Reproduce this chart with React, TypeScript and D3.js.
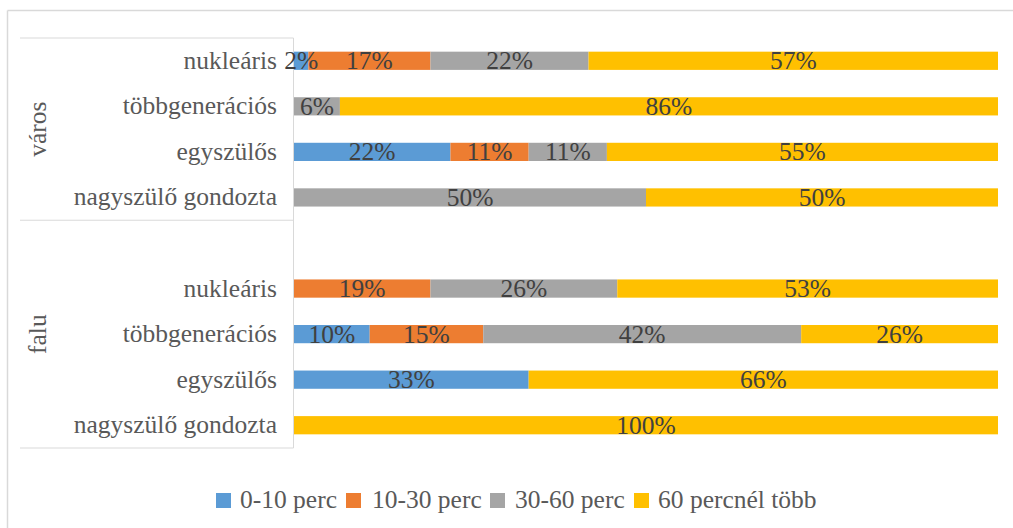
import React from "react";
import * as d3 from "d3";

const groups = ["város", "falu"];
const categories = ["nukleáris", "többgenerációs", "egyszülős", "nagyszülő gondozta"];
const seriesNames = ["0-10 perc", "10-30 perc", "30-60 perc", "60 percnél több"];
const seriesColors = ["#5B9BD5", "#ED7D31", "#A5A5A5", "#FFC000"];

// rows: város (4 categories), then falu (4 categories)
const s0_10 = [2, 0, 22, 0, 0, 10, 33, 0];
const s10_30 = [17, 0, 11, 0, 19, 15, 0, 0];
const s30_60 = [22, 6, 11, 50, 26, 42, 0, 0];
const s60plus = [57, 86, 55, 50, 53, 26, 66, 100];

const W = 1013;
const H = 528;
const FONT = "'Liberation Serif', 'Times New Roman', serif";
const FS = 25.5;

export default function App() {
  const allSeries = [s0_10, s10_30, s30_60, s60plus];
  const rows = groups.flatMap((g) => categories.map((c) => ({ group: g, cat: c })));
  const slotKeys = [
    ...categories.map((c) => `${groups[0]}|${c}`),
    `${groups[1]}|`,
    ...categories.map((c) => `${groups[1]}|${c}`),
  ];

  const y = d3.scaleBand<string>().domain(slotKeys).range([38, 448]).paddingInner(0.6).paddingOuter(0.3);
  const x = d3.scaleLinear().domain([0, 1]).range([294, 998]);

  const step = y.step();
  const bw = y.bandwidth();

  const segs: any[] = [];
  rows.forEach((r, i) => {
    const vals = allSeries.map((s) => s[i]);
    const total = d3.sum(vals);
    let cum = 0;
    vals.forEach((v, si) => {
      const x0 = cum / total;
      cum += v;
      const x1 = cum / total;
      if (v > 0) segs.push({ key: `${r.group}|${r.cat}`, si, v, x0, x1 });
    });
  });

  const groupTop = y.range()[0];
  const groupMid = groupTop + step * 4;
  const groupBottom = groupTop + step * 9;

  const legendItems = [
    { x: 216, tx: 240 },
    { x: 346, tx: 372 },
    { x: 490, tx: 515 },
    { x: 634, tx: 658 },
  ];

  return (
    <div style={{ position: "absolute", left: 0, top: 0 }}>
      <svg width={W} height={H} style={{ display: "block", background: "#fff" }} fontFamily={FONT}>
        <line x1={7.5} x2={W} y1={10.5} y2={10.5} stroke="#D9D9D9" strokeWidth={1.5} />
        <line x1={7.5} x2={7.5} y1={10.5} y2={H} stroke="#D9D9D9" strokeWidth={1.5} />

        {segs.map((s, i) => (
          <rect
            key={i}
            x={x(s.x0)}
            y={y(s.key)!}
            width={x(s.x1) - x(s.x0)}
            height={bw}
            fill={seriesColors[s.si]}
          />
        ))}

        <line x1={293.5} x2={293.5} y1={groupTop} y2={groupBottom} stroke="#D9D9D9" strokeWidth={1} />
        {[groupTop, groupMid, groupBottom].map((gy, i) => (
          <line key={i} x1={20} x2={293.5} y1={gy} y2={gy} stroke="#D9D9D9" strokeWidth={1} />
        ))}

        {rows.map((r, i) => (
          <text
            key={i}
            x={277}
            y={y(`${r.group}|${r.cat}`)! + bw / 2 + 8}
            textAnchor="end"
            fontSize={FS}
            fill="#595959"
          >
            {r.cat}
          </text>
        ))}

        {[
          { g: groups[0], c: (groupTop + groupMid) / 2 },
          { g: groups[1], c: (groupMid + groupBottom) / 2 },
        ].map((d, i) => (
          <text
            key={i}
            transform={`translate(46,${d.c}) rotate(-90)`}
            textAnchor="middle"
            fontSize={FS}
            fill="#595959"
          >
            {d.g}
          </text>
        ))}

        {segs.map((s, i) => (
          <text
            key={i}
            x={(x(s.x0) + x(s.x1)) / 2}
            y={y(s.key)! + bw / 2 + 8.5}
            textAnchor="middle"
            fontSize={FS}
            fill="#404040"
          >
            {`${s.v}%`}
          </text>
        ))}

        {seriesNames.map((n, i) => (
          <g key={i}>
            <rect x={legendItems[i].x} y={493} width={15} height={15} fill={seriesColors[i]} />
            <text x={legendItems[i].tx} y={508} fontSize={FS} fill="#595959">
              {n}
            </text>
          </g>
        ))}
      </svg>
    </div>
  );
}
